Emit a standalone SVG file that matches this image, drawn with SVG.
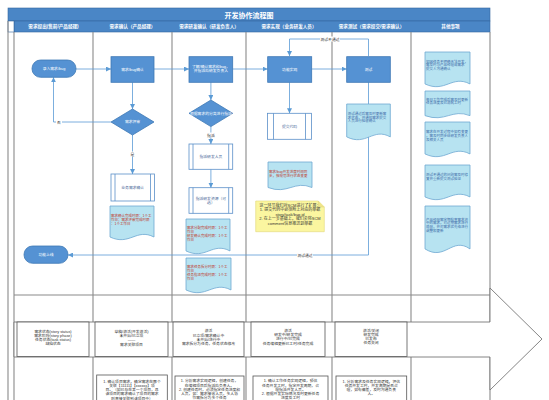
<svg xmlns="http://www.w3.org/2000/svg" xmlns:xlink="http://www.w3.org/1999/xlink" width="549" height="400" viewBox="0 0 549 400">
<style>
text{font-family:"Liberation Sans","Noto Sans CJK SC",sans-serif}
.lane{stroke:#8a8a8a;stroke-width:1.1;fill:none}
.hdr{fill:#4a86c6;stroke:#35679f;stroke-width:0.6}
.ht{fill:#fff;font-size:4.6px;text-anchor:middle;font-weight:bold}
.proc{fill:#5592d3;stroke:#3e78b5;stroke-width:0.8}
.pt{fill:#fff;font-size:3.8px;text-anchor:middle}
.sub{fill:#fff;stroke:#5b8fc9;stroke-width:0.8}
.st{fill:#4a6a9a;font-size:3.8px;text-anchor:middle}
.doc{fill:#b7e3f1;stroke:#6ea8d2;stroke-width:0.8}
.rt{fill:#c0392b;font-size:3.5px}
.bt{fill:#3b6aa8;font-size:3.5px}
.con{stroke:#5b9bd5;stroke-width:0.8;fill:none}
.lbl{fill:#333;font-size:3.8px;text-anchor:middle}
.box{fill:#fff;stroke:#555;stroke-width:0.8}
.bx{fill:#333;font-size:3.8px;text-anchor:middle}
.nt{fill:#333;font-size:4px;text-anchor:middle}
</style>
<defs>
<marker id="arr" viewBox="0 0 6 6" refX="6" refY="3" markerWidth="5" markerHeight="5" orient="auto" markerUnits="userSpaceOnUse">
<path d="M0,0 L6,3 L0,6 Z" fill="#5b9bd5"/>
</marker>
<path id="docshape" d="M0,0 H1 V0.85 C0.6,0.6 0.45,1.1 0,0.85 Z" vector-effect="non-scaling-stroke"/>
</defs>
<rect width="549" height="400" fill="#fff"/>

<g id="frame">
<rect class="hdr" x="8" y="8" width="482" height="13"/>
<text x="249" y="17.5" fill="#fff" font-size="7px" text-anchor="middle" font-weight="bold">开发协作流程图</text>
<rect class="hdr" x="14" y="21" width="476" height="11"/>
<rect x="8" y="21" width="6" height="11" fill="#fff" stroke="#35679f" stroke-width="0.6"/>
<text class="ht" x="53.5" y="28">需求提出(售前/产品经理)</text>
<text class="ht" x="132.5" y="28">需求确认（产品经理）</text>
<text class="ht" x="209" y="28">需求研发确认（研发负责人）</text>
<text class="ht" x="289" y="28">需求实现（业务研发人员）</text>
<text class="ht" x="371.5" y="28">需求测试（需求提交/需求确认）</text>
<text class="ht" x="450.5" y="28">其他事项</text>
<path class="lane" d="M8,21 V400 M14,32 V400 M93,32 V400 M172,32 V400 M246,32 V400 M332,32 V400 M411,32 V400 M490,32 V400 M14,295 H490"/>
<polygon points="14,322 490,322 490,288 542,339 490,390 490,357 14,357" fill="#fff" stroke="#777" stroke-width="0.9"/>
</g>

<g id="connectors">
<path class="con" d="M76,69 H111" marker-end="url(#arr)"/>
<path class="con" d="M154,69 H189" marker-end="url(#arr)"/>
<path class="con" d="M232.7,69 H267.7" marker-end="url(#arr)"/>
<path class="con" d="M311.7,69 H346.7" marker-end="url(#arr)"/>
<path class="con" d="M132.5,82.3 V109" marker-end="url(#arr)"/>
<path class="con" d="M111,122 H53.5 V77.3" marker-end="url(#arr)"/>
<path class="con" d="M132.5,135 V174" marker-end="url(#arr)"/>
<path class="con" d="M210.9,82.3 V100" marker-end="url(#arr)"/>
<path class="con" d="M210.9,126.6 V144" marker-end="url(#arr)"/>
<path class="con" d="M210.9,169.3 V187.7" marker-end="url(#arr)"/>
<path class="con" d="M289.5,82.3 V113.3" marker-end="url(#arr)"/>
<path class="con" d="M368.5,56 V39 H289.5 V56" marker-end="url(#arr)"/>
<path class="con" d="M368.5,82.3 V104"/>
<path class="con" d="M368.5,137 V255 H68" marker-end="url(#arr)"/>
<rect x="56" y="119.5" width="6" height="5" fill="#fff"/>
<text class="lbl" x="59" y="123.5">否</text>
<rect x="129" y="151.5" width="7" height="5" fill="#fff"/>
<text class="lbl" x="132.5" y="155.5">是</text>
<rect x="205.5" y="132.5" width="10" height="5" fill="#fff"/>
<text class="lbl" x="210.9" y="136.5">指派</text>
<rect x="320" y="36.5" width="20" height="5" fill="#fff"/>
<text class="lbl" x="330" y="40.5">测试不通过</text>
<rect x="297" y="252.5" width="16" height="5" fill="#fff"/>
<text class="lbl" x="305" y="256.5">测试通过</text>
</g>

<g id="n-input">
<rect class="proc" x="32" y="60" width="44" height="17.3" rx="8.5"/>
<text class="pt" x="54" y="70">录入需求/bug</text>
</g>
<g id="n-confirm">
<rect class="proc" x="111" y="56.7" width="43" height="25.6"/>
<text class="pt" x="132.5" y="70.5">需求/bug确认</text>
</g>
<g id="n-review">
<polygon class="proc" points="132.5,109 154,122 132.5,135 111,122"/>
<text class="pt" x="132.5" y="123.3">需求评审</text>
</g>
<g id="n-bizconfirm">
<rect class="sub" x="111" y="174" width="43.5" height="27"/>
<path class="sub" d="M115,174 V201 M150.5,174 V201"/>
<text class="st" x="132.7" y="188.8">业务需求确认</text>
</g>
<g id="n-doc1">
<use xlink:href="#docshape" class="doc" transform="translate(110,206) scale(44,36.5)"/>
<text class="rt" x="111" y="216.5">需求确认完成时限：1个工</text>
<text class="rt" x="111" y="220.5">作日；需求评审完成时限</text>
<text class="rt" x="111" y="224.5">：1个工作日</text>
</g>
<g id="n-launch">
<rect class="proc" x="24" y="246" width="44" height="17.3" rx="8.5"/>
<text class="pt" x="46" y="256">功能上线</text>
</g>

<g id="n-assign">
<rect class="proc" x="189" y="56.7" width="43.7" height="25.6"/>
<text class="pt" x="210.9" y="68.2">了解/确认需求和bug，</text>
<text class="pt" x="210.9" y="72.4">并指派给研发负责人</text>
</g>
<g id="n-classify">
<polygon class="proc" points="210.9,100 232.7,113.3 210.9,126.6 189,113.3"/>
<text class="pt" x="210.9" y="114.6" font-size="3.4px">根据需求的分类进行指派</text>
</g>
<g id="n-dev">
<rect class="sub" x="189" y="144" width="43.7" height="25.3"/>
<path class="sub" d="M193,144 V169.3 M228.7,144 V169.3"/>
<text class="st" x="210.9" y="158">指派研发人员</text>
</g>
<g id="n-res">
<rect class="sub" x="189" y="187.7" width="43.7" height="25.6"/>
<path class="sub" d="M193,187.7 V213.3 M228.7,187.7 V213.3"/>
<text class="st" x="210.9" y="199.5">指派研发资源（可</text>
<text class="st" x="210.9" y="203.7">选）</text>
</g>
<g id="n-doc2">
<use xlink:href="#docshape" class="doc" transform="translate(186,219) scale(44,37.6)"/>
<text class="rt" x="187" y="229">需求分配完成时限：1个工</text>
<text class="rt" x="187" y="233">作日</text>
<text class="rt" x="187" y="237">研发确认完成时限：1个工</text>
<text class="rt" x="187" y="241">作日</text>
</g>
<g id="n-doc3">
<use xlink:href="#docshape" class="doc" transform="translate(186,258) scale(45,37.6)"/>
<text class="rt" x="187" y="268">需求任务拆分时限：1个工</text>
<text class="rt" x="187" y="272">作日</text>
<text class="rt" x="187" y="276">任务指派完成时限：1个工</text>
<text class="rt" x="187" y="280">作日</text>
</g>

<g id="n-impl">
<rect class="proc" x="267.7" y="56.7" width="44" height="25.6"/>
<text class="pt" x="289.7" y="70.5">功能实现</text>
</g>
<g id="n-commit">
<rect class="sub" x="267.5" y="113.3" width="44" height="26"/>
<path class="sub" d="M273.5,113.3 V139.3 M305.5,113.3 V139.3"/>
<text class="st" x="289.5" y="127.5">提交代码</text>
</g>
<g id="n-doc4">
<use xlink:href="#docshape" class="doc" transform="translate(268,162) scale(44,30)"/>
<text class="rt" x="269" y="173.3">需求/bug开发进度时间同</text>
<text class="rt" x="269" y="177.2">步，按规范进行状态变更</text>
</g>
<g id="n-note">
<path d="M255.7,201 H318.3 L324.3,207 V231.7 H255.7 Z" fill="#fbf6a0" stroke="#e3d97a" stroke-width="0.6"/>
<path d="M318.3,201 V207 H324.3" fill="#efe48a" stroke="#d8cf78" stroke-width="0.5"/>
<text class="nt" x="290" y="207">这一环节我们对SCM进行了扩展：</text>
<text class="nt" x="290" y="211.4">1. 提交代码中必须附上对应的单据</text>
<text class="nt" x="290" y="215.8">story/task/bug id</text>
<text class="nt" x="290" y="220.2">2. 在上一步基础上，我们会将SCM</text>
<text class="nt" x="290" y="224.6">comment信息推送到单据</text>
</g>

<g id="n-test">
<rect class="proc" x="346.7" y="56.7" width="43.6" height="25.6"/>
<text class="pt" x="368.5" y="70.5">测试</text>
</g>
<g id="n-doc5">
<use xlink:href="#docshape" class="doc" transform="translate(346.7,104) scale(43.6,38.7)"/>
<text class="bt" x="347.7" y="115">测试通过后需及时更新需</text>
<text class="bt" x="347.7" y="118.7">求状态，并通知需求提交</text>
<text class="bt" x="347.7" y="122.4">人员进行验收确认</text>
</g>

<g id="n-other1">
<use xlink:href="#docshape" class="doc" transform="translate(425,52) scale(45,37.6)"/>
<text class="bt" x="426" y="62.7">如因任务不明确无法开发，</text>
<text class="bt" x="426" y="66.4">需及时与产品经理或需求</text>
<text class="bt" x="426" y="70.1">提交人沟通确认</text>
</g>
<g id="n-other2">
<use xlink:href="#docshape" class="doc" transform="translate(425,91) scale(45,29)"/>
<text class="bt" x="426" y="100.7">每日工作完成后需及时更新</text>
<text class="bt" x="426" y="104.4">任务进度及已消耗工时</text>
</g>
<g id="n-other3">
<use xlink:href="#docshape" class="doc" transform="translate(425,122) scale(45,37.6)"/>
<text class="bt" x="426" y="133.3">需求在开发过程中如有变更</text>
<text class="bt" x="426" y="137">，需及时同步给研发负责人</text>
<text class="bt" x="426" y="140.7">及相关人员</text>
</g>
<g id="n-other4">
<use xlink:href="#docshape" class="doc" transform="translate(425,165) scale(45,37.6)"/>
<text class="bt" x="426" y="176">测试不通过的问题需及时修</text>
<text class="bt" x="426" y="179.7">复并重新提交测试验证</text>
</g>
<g id="n-other5">
<use xlink:href="#docshape" class="doc" transform="translate(425,206) scale(45,50.5)"/>
<text class="bt" x="426" y="220.7">产品经理需定期检查需求池</text>
<text class="bt" x="426" y="224.4">中的需求，对过期需求进行</text>
<text class="bt" x="426" y="228.1">处理，并对需求优先级进行</text>
<text class="bt" x="426" y="231.8">调整和更新</text>
</g>

<g id="n-status1">
<rect class="box" x="17" y="322" width="72" height="34.5"/>
<text class="bx" x="53" y="332.7">需求状态(story status)</text>
<text class="bx" x="53" y="336.9">需求阶段(story phase)</text>
<text class="bx" x="53" y="341.1">任务状态(task status)</text>
<text class="bx" x="53" y="345.3">缺陷状态</text>
</g>
<g id="n-status2">
<rect class="box" x="95" y="322" width="73" height="34.5"/>
<text class="bx" x="131.5" y="332.7">草稿/激活(开发激活)</text>
<text class="bx" x="131.5" y="336.9">未开始/已立项</text>
<text class="bx" x="131.5" y="341.1">——</text>
<text class="bx" x="131.5" y="345.5">需求关联项目</text>
</g>
<g id="n-status3">
<rect class="box" x="173" y="322" width="71" height="34.5"/>
<text class="bx" x="208.5" y="332.4">激活</text>
<text class="bx" x="208.5" y="336.6">已立项/需求确认中</text>
<text class="bx" x="208.5" y="340.8">未开始/进行中</text>
<text class="bx" x="208.5" y="345.2">需求拆分为任务，任务状态修改</text>
</g>
<g id="n-status4">
<rect class="box" x="251" y="322" width="74" height="34.5"/>
<text class="bx" x="288" y="332">激活</text>
<text class="bx" x="288" y="336.2">研发中/研发完成</text>
<text class="bx" x="288" y="340.4">进行中/已完成</text>
<text class="bx" x="288" y="344.8">任务编辑更新已工时/任务完成</text>
</g>
<g id="n-status5">
<rect class="box" x="335" y="322" width="72" height="34.5"/>
<text class="bx" x="371" y="331.8">激活/关闭</text>
<text class="bx" x="371" y="336">研发完成</text>
<text class="bx" x="371" y="340.2">已发布</text>
<text class="bx" x="371" y="344.4">任务关闭</text>
</g>

<g id="n-rule2">
<rect class="box" x="96.7" y="375" width="70.6" height="40"/>
<text class="bx" x="132" y="382.7">1. 确认项目需求，确定需求在哪个</text>
<text class="bx" x="132" y="386.9">关联【11111】【xxxxxx】项</text>
<text class="bx" x="132" y="391.1">目。（如已存在某一个项目，且</text>
<text class="bx" x="132" y="395.3">该项目的需求确认了项目的需求</text>
<text class="bx" x="132" y="399.5">则直接关联到该项目中）</text>
</g>
<g id="n-rule3">
<rect class="box" x="175" y="376" width="69" height="40"/>
<text class="bx" x="209.5" y="382.4">1. 分析需求实现逻辑，创建任务，</text>
<text class="bx" x="209.5" y="386.6">在编辑项目后指派给负责人。</text>
<text class="bx" x="209.5" y="390.8">2. 创建任务时，必须指定任务进度和</text>
<text class="bx" x="209.5" y="395">人员，如：需求接收人员，多人协</text>
<text class="bx" x="209.5" y="399.2">作需拆分为多个任务</text>
</g>
<g id="n-rule4">
<rect class="box" x="253" y="376" width="75" height="40"/>
<text class="bx" x="290.5" y="382.4">1. 确认工作任务实现逻辑，预估</text>
<text class="bx" x="290.5" y="386.6">任务开发工时，指定开发周期，合</text>
<text class="bx" x="290.5" y="390.8">理指派开发人员。</text>
<text class="bx" x="290.5" y="395">2. 根据开发实际情况及时更新任务</text>
<text class="bx" x="290.5" y="399.2">进度及工时</text>
</g>
<g id="n-rule5">
<rect class="box" x="336" y="376" width="70.7" height="40"/>
<text class="bx" x="371.3" y="382.7">1. 分析需求及任务实现逻辑，评估</text>
<text class="bx" x="371.3" y="386.7">任务开发工时，开发周期是否合</text>
<text class="bx" x="371.3" y="390.7">理，如有偏差，及时沟通负责</text>
<text class="bx" x="371.3" y="394.7">人。</text>
</g>
</svg>
